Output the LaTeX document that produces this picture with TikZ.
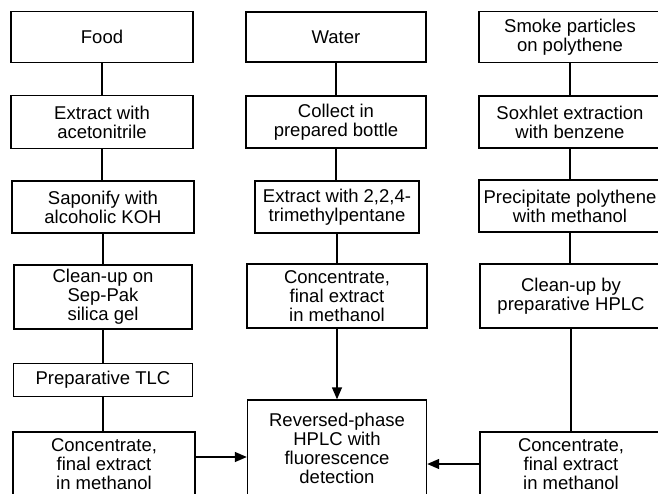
\documentclass[tikz,border=0pt]{standalone}
\usepackage{fontspec}
\setmainfont{Liberation Sans}
\usetikzlibrary{arrows.meta}
\begin{document}
\begin{tikzpicture}[x=1pt,y=-1pt,font=\fontsize{18.5}{19}\selectfont,line width=1.4pt,
  box/.style={draw,align=center,inner sep=1pt,minimum width=182pt},
  arr/.style={-{Triangle[length=12pt,width=10pt]}}]
\useasboundingbox (0,0) rectangle (658,494);
\clip (0,0) rectangle (658,494);
% food
\node[box,minimum height=51pt] (food) at (102,37) {Food};
\node[box,minimum height=53pt] (acet) at (102,122) {Extract with\\acetonitrile};
\node[box,minimum height=52pt] (sapon) at (103,207) {Saponify with\\alcoholic KOH};
\node[box,minimum height=64pt,minimum width=178pt] (seppak) at (103,297) {Clean-up on\\Sep-Pak\\silica gel};
\node[box,minimum height=33pt,minimum width=179pt] (tlc) at (103,380) {Preparative TLC};
\node[box,minimum height=64pt] (concL) at (104,464) {Concentrate,\\final extract\\in methanol};
% water
\node[box,minimum height=50pt,minimum width=180pt] (water) at (336,37) {Water};
\node[box,minimum height=52pt,minimum width=180pt] (bottle) at (336,122) {Collect in\\prepared bottle};
\node[box,minimum height=52pt,minimum width=164pt] (tmp) at (337,207) {Extract with 2,2,4-\\trimethylpentane};
\node[box,minimum height=64pt,minimum width=180pt] (concC) at (337,296) {Concentrate,\\final extract\\in methanol};
\node[box,minimum height=96pt,minimum width=179pt] (hplc) at (337,448) {Reversed-phase\\HPLC with\\fluorescence\\detection};
% smoke
\node[box,minimum height=51pt] (smoke) at (570,37) {Smoke particles\\on polythene};
\node[box,minimum height=52pt] (soxh) at (570,122) {Soxhlet extraction\\with benzene};
\node[box,minimum height=52pt] (precip) at (570,206) {Precipitate polythene\\with methanol};
\node[box,minimum height=64pt] (prephplc) at (571,296) {Clean-up by\\preparative HPLC};
\node[box,minimum height=64pt] (concR) at (571,464) {Concentrate,\\final extract\\in methanol};
\coordinate (aL) at ([yshift=7pt]concL.east);
\draw (food)--(food|-acet.north) (acet)--(acet|-sapon.north) (sapon)--(sapon|-seppak.north)
  (seppak)--(seppak|-tlc.north) (tlc)--(tlc|-concL.north);
\draw (water)--(water|-bottle.north) (bottle)--(bottle|-tmp.north) (tmp)--(tmp|-concC.north);
\draw (smoke)--(smoke|-soxh.north) (soxh)--(soxh|-precip.north) (precip)--(precip|-prephplc.north)
  (prephplc)--(prephplc|-concR.north);
\draw[arr] (concC.south)--(hplc.north);
\draw[arr] (aL)--(hplc.west|-aL);
\draw[arr] (concR.west)--(hplc.east|-concR.west);
\end{tikzpicture}
\end{document}
